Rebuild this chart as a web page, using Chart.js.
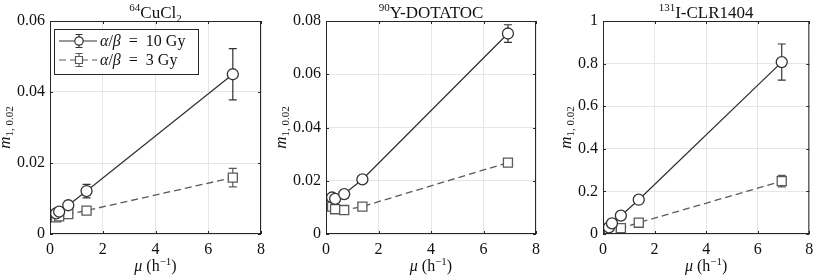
<!DOCTYPE html>
<html>
<head>
<meta charset="utf-8">
<script src="https://cdn.jsdelivr.net/npm/chart.js@4"></script>
<style>
body { margin: 0; background: #fff; }
#wrap { position: relative; width: 817px; height: 277px; }
canvas { position: absolute; top: 0; }
</style>
</head>
<body>
<div id="wrap">
	<canvas id="c1" width="272" height="277" style="left:0px"></canvas>
	<canvas id="c2" width="273" height="277" style="left:272px"></canvas>
	<canvas id="c3" width="272" height="277" style="left:545px"></canvas>
</div>
<script>
// dose rate constant mu (h^-1), same for every panel
var mu = [0.231, 0.347, 0.693, 1.386, 6.931];

// 64CuCl2
var cuHigh = [0.0058, 0.0063, 0.0081, 0.0121, 0.0450];
var cuHighErr = [0.0006, 0.0007, 0.0012, 0.0019, 0.0072];
var cuLow = [0.0047, 0.0050, 0.0056, 0.0066, 0.0159];
var cuLowErr = [0.0005, 0.0005, 0.0007, 0.0009, 0.0026];

// 90Y-DOTATOC
var yHigh = [0.0137, 0.0132, 0.0150, 0.0205, 0.0753];
var yHighErr = [0.0006, 0.0006, 0.0007, 0.0008, 0.0033];
var yLow = [0.0103, 0.0093, 0.0090, 0.0103, 0.0268];
var yLowErr = [0.0004, 0.0004, 0.0004, 0.0004, 0.0008];

// 131I-CLR1404
var iHigh = [0.031, 0.050, 0.086, 0.161, 0.807];
var iHighErr = [0.004, 0.006, 0.009, 0.015, 0.085];
var iLow = [0.013, 0.019, 0.027, 0.053, 0.248];
var iLowErr = [0.002, 0.003, 0.004, 0.006, 0.027];

var titleIso = ["64", "90", "131"];
var titleName = ["CuCl", "Y-DOTATOC", "I-CLR1404"];
var titleSub = ["2", "", ""];
var seriesGy = ["10 Gy", "3 Gy"];
var yMax = [0.06, 0.08, 1];
var yStep = [0.02, 0.02, 0.2];
var xMax = 8;
var xStep = 2;

// layout
var padRight = [11, 9, 4];
var yAxisWidth = [50, 54, 58];
var FONT = "'Liberation Serif', 'Times New Roman', serif";
var INK = "#262626";
var colHigh = "#333333";
var colLow = "#5a5a5a";

function drawRich(ctx, pieces, x, y, align) {
	var w = 0;
	pieces.forEach(function(p) { ctx.font = p.font; w += ctx.measureText(p.text).width; });
	var cx = align === "center" ? x - w / 2 : x;
	ctx.textAlign = "left";
	ctx.textBaseline = "alphabetic";
	pieces.forEach(function(p) {
		ctx.font = p.font;
		ctx.fillText(p.text, cx, y + (p.dy || 0));
		cx += ctx.measureText(p.text).width;
	});
}

function legendText(gy) {
	return [
		{ text: "α", font: "italic 16px " + FONT },
		{ text: "/", font: "16px " + FONT },
		{ text: "β", font: "italic 16px " + FONT },
		{ text: "  =  " + gy, font: "16px " + FONT }
	];
}

var panelPlugin = {
	id: "panel",
	beforeDatasetsDraw: function(chart) {
		// error bars, from the data through the scales
		var ctx = chart.ctx, xs = chart.scales.x, ys = chart.scales.y;
		ctx.save();
		chart.data.datasets.forEach(function(ds) {
			ctx.strokeStyle = ds.borderColor;
			ctx.lineWidth = 1.2;
			ctx.setLineDash([]);
			ds.data.forEach(function(p, i) {
				var px = xs.getPixelForValue(p.x);
				var top = ys.getPixelForValue(p.y + ds.err[i]);
				var bot = ys.getPixelForValue(p.y - ds.err[i]);
				ctx.beginPath();
				ctx.moveTo(px, top); ctx.lineTo(px, bot);
				ctx.moveTo(px - 4, top); ctx.lineTo(px + 4, top);
				ctx.moveTo(px - 4, bot); ctx.lineTo(px + 4, bot);
				ctx.stroke();
			});
		});
		ctx.restore();
	},
	afterDraw: function(chart) {
		var ctx = chart.ctx, a = chart.chartArea, k = chart.options.panelIndex;
		var xs = chart.scales.x, ys = chart.scales.y;
		ctx.save();
		// frame and inward ticks
		ctx.strokeStyle = INK;
		ctx.lineWidth = 1;
		ctx.strokeRect(a.left + 0.5, a.top + 0.5, a.right - a.left - 1, a.bottom - a.top - 1);
		ctx.beginPath();
		xs.ticks.forEach(function(t) {
			var px = Math.round(xs.getPixelForValue(t.value)) + 0.5;
			ctx.moveTo(px, a.bottom); ctx.lineTo(px, a.bottom - 3);
			ctx.moveTo(px, a.top); ctx.lineTo(px, a.top + 3);
		});
		ys.ticks.forEach(function(t) {
			var py = Math.round(ys.getPixelForValue(t.value)) + 0.5;
			ctx.moveTo(a.left, py); ctx.lineTo(a.left + 3, py);
			ctx.moveTo(a.right, py); ctx.lineTo(a.right - 3, py);
		});
		ctx.stroke();

		ctx.fillStyle = "#111";
		var cx = (a.left + a.right) / 2;
		// title
		var title = [
			{ text: titleIso[k], font: "11px " + FONT, dy: -7 },
			{ text: titleName[k], font: "17px " + FONT }
		];
		if (titleSub[k]) title.push({ text: titleSub[k], font: "11px " + FONT, dy: 4 });
		drawRich(ctx, title, cx, 17.5, "center");

		// x axis title
		drawRich(ctx, [
			{ text: "μ", font: "italic 16px " + FONT },
			{ text: " (h", font: "16px " + FONT },
			{ text: "−1", font: "11px " + FONT, dy: -6 },
			{ text: ")", font: "16px " + FONT }
		], cx, 271, "center");

		// y axis title, rotated
		ctx.font = "16px " + FONT;
		var tw = 0;
		ys.ticks.forEach(function(t) { tw = Math.max(tw, ctx.measureText(t.label).width); });
		var lx = a.left - 5 - tw - 10;
		ctx.translate(lx, (a.top + a.bottom) / 2);
		ctx.rotate(-Math.PI / 2);
		drawRich(ctx, [
			{ text: "m", font: "italic 17px " + FONT },
			{ text: "1, 0.02", font: "11px " + FONT, dy: 3 }
		], 0, 3, "center");
		ctx.restore();

		// legend, first panel only
		if (k === 0) {
			ctx.save();
			var bx = a.left + 4, by = a.top + 8, bw = 144, bh = 45;
			ctx.fillStyle = "#fff";
			ctx.fillRect(bx, by, bw, bh);
			ctx.strokeStyle = INK;
			ctx.lineWidth = 1;
			ctx.strokeRect(bx + 0.5, by + 0.5, bw, bh);
			chart.data.datasets.forEach(function(ds, r) {
				var ry = by + 12 + r * 19;
				var mx = bx + 25;
				ctx.strokeStyle = ds.borderColor;
				ctx.lineWidth = 1.2;
				ctx.setLineDash(ds.borderDash || []);
				ctx.beginPath();
				ctx.moveTo(bx + 5, ry); ctx.lineTo(bx + 43, ry);
				ctx.stroke();
				ctx.setLineDash([]);
				ctx.beginPath();
				ctx.moveTo(mx, ry - 6.5); ctx.lineTo(mx, ry + 6.5);
				ctx.moveTo(mx - 3.5, ry - 6.5); ctx.lineTo(mx + 3.5, ry - 6.5);
				ctx.moveTo(mx - 3.5, ry + 6.5); ctx.lineTo(mx + 3.5, ry + 6.5);
				ctx.stroke();
				ctx.fillStyle = "#fff";
				ctx.beginPath();
				if (ds.pointStyle === "circle") {
					ctx.arc(mx, ry, 4.2, 0, Math.PI * 2);
				} else {
					ctx.rect(mx - 3.5, ry - 3.5, 7, 7);
				}
				ctx.fill();
				ctx.stroke();
				ctx.fillStyle = "#111";
				drawRich(ctx, legendText(seriesGy[r]), bx + 46, ry + 5, "left");
			});
			ctx.restore();
		}
	}
};

function points(vals) {
	return mu.map(function(x, i) { return { x: x, y: vals[i] }; });
}

function makeChart(id, k, high, highErr, low, lowErr) {
	var ctx = document.getElementById(id);
	return new Chart(ctx, {
		type: "scatter",
		data: {
			datasets: [
				{
					label: "α/β = " + seriesGy[0],
					data: points(high),
					err: highErr,
					showLine: true,
					borderColor: colHigh,
					borderWidth: 1.3,
					pointStyle: "circle",
					pointRadius: 5.5,
					pointBackgroundColor: "#fff",
					pointBorderColor: colHigh,
					pointBorderWidth: 1.3
				},
				{
					label: "α/β = " + seriesGy[1],
					data: points(low),
					err: lowErr,
					showLine: true,
					borderColor: colLow,
					borderWidth: 1.3,
					borderDash: [7, 4],
					pointStyle: "rect",
					pointRadius: 6.4,
					pointBackgroundColor: "#fff",
					pointBorderColor: colLow,
					pointBorderWidth: 1.3
				}
			]
		},
		options: {
			panelIndex: k,
			responsive: false,
			animation: false,
			layout: { padding: { top: 21, right: padRight[k], left: 0, bottom: 0 } },
			plugins: {
				legend: { display: false },
				title: { display: false },
				tooltip: { enabled: false }
			},
			scales: {
				x: {
					type: "linear",
					min: 0,
					max: xMax,
					ticks: { stepSize: xStep, padding: 6, maxRotation: 0, color: "#111", font: { family: FONT, size: 16 } },
					grid: { color: "#e6e6e6", drawTicks: false },
					border: { display: false },
					afterFit: function(s) { s.height = 43; s.paddingLeft = 0; s.paddingRight = 0; }
				},
				y: {
					type: "linear",
					min: 0,
					max: yMax[k],
					ticks: {
						stepSize: yStep[k],
						padding: 5,
						color: "#111",
						font: { family: FONT, size: 16 },
						callback: function(v) { return String(+v.toFixed(3)); }
					},
					grid: { color: "#e6e6e6", drawTicks: false },
					border: { display: false },
					afterFit: function(s) { s.width = yAxisWidth[k]; s.paddingTop = 0; s.paddingBottom = 0; }
				}
			}
		},
		plugins: [panelPlugin]
	});
}

makeChart("c1", 0, cuHigh, cuHighErr, cuLow, cuLowErr);
makeChart("c2", 1, yHigh, yHighErr, yLow, yLowErr);
makeChart("c3", 2, iHigh, iHighErr, iLow, iLowErr);
</script>
</body>
</html>
